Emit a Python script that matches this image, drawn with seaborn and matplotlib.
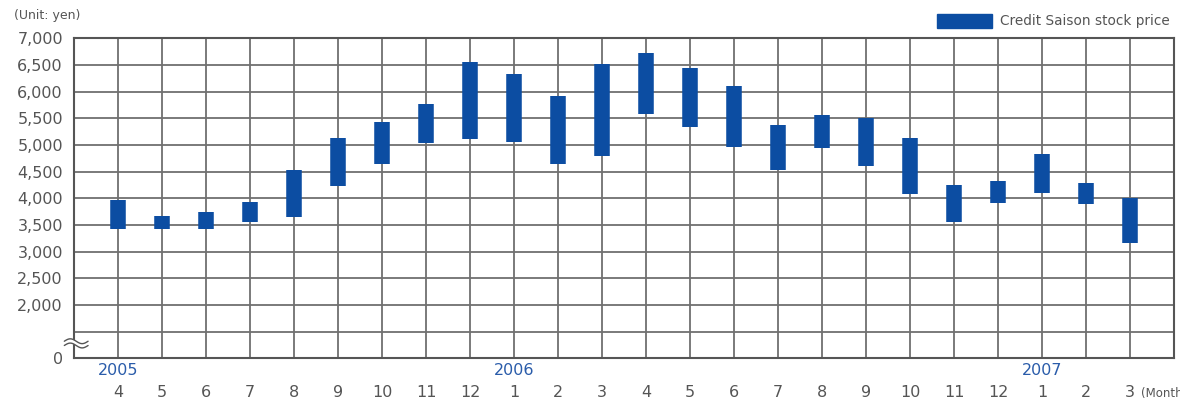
import numpy as np
import pandas as pd
import matplotlib
matplotlib.use("Agg")
import matplotlib.pyplot as plt
from matplotlib.patches import Rectangle
import seaborn as sns

# Monthly trading range, April 2005 - March 2007
months = ["4", "5", "6", "7", "8", "9", "10", "11", "12",
          "1", "2", "3", "4", "5", "6", "7", "8", "9", "10", "11", "12",
          "1", "2", "3"]
highs = [3960, 3660, 3740, 3930, 4530, 5140, 5440, 5760, 6560,
         6340, 5920, 6520, 6730, 6450, 6110, 5370, 5570, 5500, 5130, 4250, 4330,
         4830, 4290, 4000]
lows = [3420, 3420, 3430, 3560, 3650, 4240, 4650, 5040, 5110,
        5060, 4650, 4800, 5580, 5330, 4970, 4540, 4950, 4600, 4090, 3560, 3910,
        4100, 3890, 3160]
years = {0: "2005", 9: "2006", 21: "2007"}
ytick_vals = [1000, 1500, 2000, 2500, 3000, 3500, 4000, 4500, 5000, 5500, 6000, 6500, 7000]
ytick_labels = ["0", "", "2,000", "2,500", "3,000", "3,500", "4,000", "4,500",
                "5,000", "5,500", "6,000", "6,500", "7,000"]
series_name = "Credit Saison stock price"

BAR = "#0C4DA2"
TXT = "#555555"
GRID = "#707070"
YEAR = "#2A5CAA"

sns.set_theme(style="white")
plt.rcParams["font.family"] = ["DejaVu Sans"]

pos = np.arange(len(months))
df = pd.DataFrame({
    "pos": np.concatenate([pos, pos]),
    "price": np.concatenate([lows, highs]),
    "month": np.concatenate([pos, pos]),
})

fig = plt.figure(figsize=(11.8, 4.01), dpi=100)
ax = fig.add_axes([74 / 1180, 1 - 358.3 / 401, 1100 / 1180, (358.3 - 38.3) / 401])

# each month's low-high range as a thick vertical segment
sns.lineplot(data=df, x="pos", y="price", units="month", estimator=None,
             color=BAR, lw=11.2, solid_capstyle="butt", ax=ax, zorder=3,
             legend=False)

ax.set_xlim(-1, 24)
ax.set_ylim(1000, 7000)
ax.set_xticks(pos)
ax.set_xticklabels([])
ax.set_yticks(ytick_vals)
ax.set_yticklabels(ytick_labels, color=TXT, fontsize=11.5)
ax.tick_params(axis="both", length=0, pad=8)
ax.set_xlabel("")
ax.set_ylabel("")
ax.grid(True, color=GRID, lw=1.3)
ax.set_axisbelow(True)
for s in ax.spines.values():
    s.set_color("#555555")
    s.set_linewidth(1.5)

# month and year labels beneath the axis
for i, m in enumerate(months):
    ax.text(i, -0.108, m, transform=ax.get_xaxis_transform(), ha="center",
            va="center", color=TXT, fontsize=11.5)
for i, y in years.items():
    ax.text(i, -0.038, y, transform=ax.get_xaxis_transform(), ha="center",
            va="center", color=YEAR, fontsize=11.5)
fig.text(1141 / 1180, 1 - 393 / 401, "(Month", ha="left", va="center",
         color=TXT, fontsize=8.5)

# axis break mark on the left spine
bx = np.linspace(-1.22, -0.68, 60)
wave = 45 * np.sin((bx + 1.22) / 0.54 * 2 * np.pi)
ax.fill_between(bx, 1240 + wave, 1320 + wave, color="white", zorder=5,
                clip_on=False, lw=0)
ax.plot(bx, 1240 + wave, color=TXT, lw=1.0, zorder=6, clip_on=False)
ax.plot(bx, 1320 + wave, color=TXT, lw=1.0, zorder=6, clip_on=False)

# unit label and legend
fig.text(14 / 1180, 1 - 16 / 401, "(Unit: yen)", ha="left", va="center",
         color=TXT, fontsize=9)
fig.patches.append(Rectangle((937 / 1180, 1 - 27.5 / 401), 55 / 1180, 13.5 / 401,
                             transform=fig.transFigure, color=BAR))
fig.text(1000 / 1180, 1 - 21 / 401, series_name, ha="left", va="center",
         color=TXT, fontsize=9.8)

fig.savefig("out.png", dpi=100)
